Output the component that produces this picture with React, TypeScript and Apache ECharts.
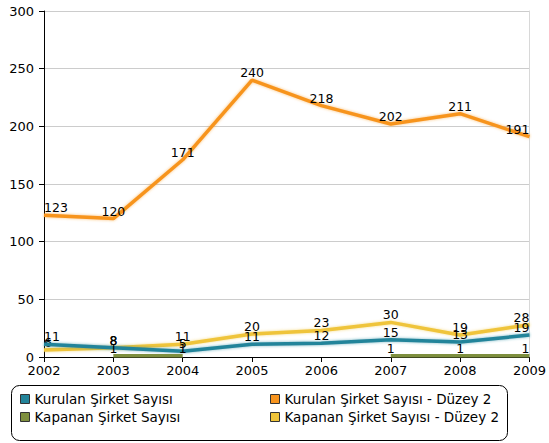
import React, { useEffect, useRef } from "react";
import * as echarts from "echarts";

const years = ["2002", "2003", "2004", "2005", "2006", "2007", "2008", "2009"];
const kurulan = [11, 8, 5, 11, 12, 15, 13, 19];
const kurulanDuzey2 = [123, 120, 171, 240, 218, 202, 211, 191];
const kapanan: (number | null)[] = [null, 1, 1, null, null, 1, 1, 1];
const kapananDuzey2 = [6, 8, 11, 20, 23, 30, 19, 28];

const names = [
  "Kurulan Şirket Sayısı",
  "Kurulan Şirket Sayısı - Düzey 2",
  "Kapanan Şirket Sayısı",
  "Kapanan Şirket Sayısı - Düzey 2",
];
const colors = ["#23849A", "#F7941E", "#7E8F3E", "#EFC43A"];

const FONT = "DejaVu Sans";

export default function App() {
  const ref = useRef<HTMLDivElement>(null);
  useEffect(() => {
    if (!ref.current) return;
    const chart = echarts.init(ref.current, null, { renderer: "svg" });
    const last = years.length - 1;
    const toData = (arr: (number | null)[]) =>
      arr.map((v, i) => ({
        value: v,
        label:
          i === 0
            ? { align: "left", offset: [1, 0] }
            : i === last
            ? { align: "right", offset: [-1, 0] }
            : {},
      }));
    const mk = (
      name: string,
      data: (number | null)[],
      color: string,
      z: number,
      glow = true
    ) => ({
      name,
      type: "line",
      data: toData(data),
      z,
      clip: false,
      symbol: "circle",
      symbolSize: 0,
      showSymbol: true,
      connectNulls: false,
      lineStyle: glow
        ? { color, width: 3.5, shadowColor: color + "99", shadowBlur: 3 }
        : { color, width: 3.5 },
      itemStyle: { color, borderColor: "#333", borderWidth: 1 },
      label: {
        show: true,
        position: "top",
        distance: 1,
        color: "#000",
        fontFamily: FONT,
        fontSize: 12.5,
      },
      labelLayout: { hideOverlap: false },
    });
    const legendCommon = {
      orient: "vertical",
      top: 392,
      padding: 0,
      itemGap: 4,
      itemWidth: 9,
      itemHeight: 9,
      icon: "rect",
      itemStyle: { borderColor: "#333", borderWidth: 1 },
      textStyle: { color: "#000", fontFamily: FONT, fontSize: 13.5 },
    };
    chart.setOption({
      animation: false,
      backgroundColor: "#fff",
      color: colors,
      textStyle: { fontFamily: FONT },
      grid: { left: 44, right: 17, top: 11, bottom: 86, containLabel: false },
      xAxis: {
        type: "category",
        data: years,
        boundaryGap: false,
        axisLine: { show: true, lineStyle: { color: "#000", width: 1 } },
        axisTick: { show: true, length: 5, lineStyle: { color: "#000" } },
        axisLabel: { color: "#000", fontFamily: FONT, fontSize: 13, margin: 7 },
        splitLine: { show: false },
      },
      yAxis: [
        {
          type: "value",
          min: 0,
          max: 300,
          interval: 50,
          axisLine: { show: true, lineStyle: { color: "#000", width: 1 } },
          axisTick: { show: true, length: 5, lineStyle: { color: "#000" } },
          axisLabel: { color: "#000", fontFamily: FONT, fontSize: 13, margin: 10 },
          splitLine: { show: true, lineStyle: { color: "#cccccc", width: 1 } },
        },
        {
          type: "value",
          position: "right",
          min: 0,
          max: 300,
          interval: 50,
          axisLine: { show: true, lineStyle: { color: "#d8d8d8", width: 1 } },
          axisTick: { show: false },
          axisLabel: { show: false },
          splitLine: { show: false },
        },
      ],
      legend: [
        { ...legendCommon, data: [names[0], names[2]], left: 20 },
        { ...legendCommon, data: [names[1], names[3]], left: 270 },
      ],
      graphic: [
        {
          type: "rect",
          shape: { x: 11.5, y: 385.5, width: 496, height: 55, r: 8 },
          style: { fill: "none", stroke: "#000", lineWidth: 1 },
          silent: true,
        },
      ],
      series: [
        mk(names[2], kapanan, colors[2], 6, false),
        mk(names[3], kapananDuzey2, colors[3], 3),
        mk(names[0], kurulan, colors[0], 4),
        mk(names[1], kurulanDuzey2, colors[1], 5),
      ],
    });
    return () => chart.dispose();
  }, []);
  return (
    <div
      ref={ref}
      style={{ position: "absolute", left: 0, top: 0, width: 549, height: 443 }}
    />
  );
}
